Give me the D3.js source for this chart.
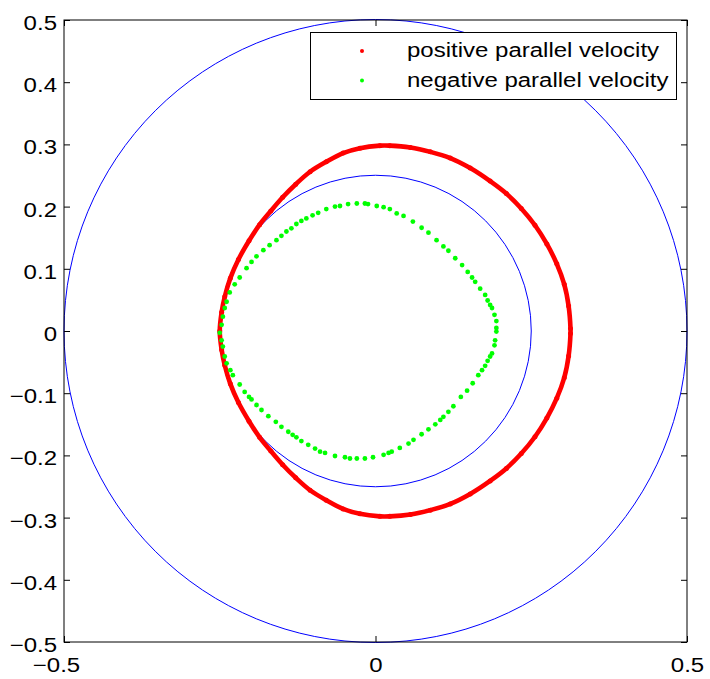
<!doctype html>
<html lang="en">
<head>
<meta charset="utf-8">
<title>parallel velocity orbits</title>
<script src="https://d3js.org/d3.v7.min.js"></script>
<style>
  body { margin: 0; background: #fff; }
  text { font-family: "Liberation Sans", Arial, sans-serif; }
</style>
</head>
<body>
<div id="chart"></div>
<script>
// ticks
var xTicks = [-0.5, 0, 0.5];
var yTicks = [-0.5, -0.4, -0.3, -0.2, -0.1, 0, 0.1, 0.2, 0.3, 0.4, 0.5];

// reference circles (radius)
var circleRadii = [0.5, 0.25];

// positive parallel velocity (red), going round
var posX = [-0.250, -0.247, -0.242, -0.233, -0.220, -0.203, -0.186, -0.168, -0.149, -0.128, -0.105, -0.079, -0.052, -0.025, 0.007, 0.023, 0.056, 0.088, 0.120, 0.152, 0.184, 0.210, 0.234, 0.256, 0.275, 0.291, 0.303, 0.310, 0.313,
            0.313, 0.310, 0.303, 0.291, 0.275, 0.256, 0.234, 0.210, 0.184, 0.152, 0.120, 0.088, 0.056, 0.023, 0.007, -0.025, -0.052, -0.079, -0.105, -0.128, -0.149, -0.168, -0.186, -0.203, -0.220, -0.233, -0.242, -0.247];
var posY = [0.000, 0.030, 0.055, 0.085, 0.115, 0.145, 0.171, 0.193, 0.215, 0.236, 0.256, 0.272, 0.286, 0.294, 0.298, 0.298, 0.295, 0.288, 0.278, 0.262, 0.241, 0.221, 0.197, 0.170, 0.140, 0.108, 0.075, 0.040, 0.004,
            -0.004, -0.040, -0.075, -0.108, -0.140, -0.170, -0.197, -0.221, -0.241, -0.262, -0.278, -0.288, -0.295, -0.298, -0.298, -0.294, -0.286, -0.272, -0.256, -0.236, -0.215, -0.193, -0.171, -0.145, -0.115, -0.085, -0.055, -0.030];

// negative parallel velocity (green)
var negX = [-0.247, -0.245, -0.242, -0.239, -0.234, -0.226, -0.218, -0.207, -0.199, -0.191, -0.180, -0.170, -0.159, -0.151, -0.143, -0.135, -0.127, -0.119, -0.111, -0.101, -0.092, -0.079, -0.065, -0.057, -0.044, -0.030, -0.017, -0.012, 0.002, 0.013, 0.023,
            0.034, 0.045, 0.060, 0.074, 0.085, 0.098, 0.109, 0.117, 0.128, 0.139, 0.148, 0.155, 0.160, 0.168, 0.176, 0.180, 0.184, 0.187, 0.191, 0.194, 0.194, 0.194, 0.192, 0.191, 0.187, 0.184, 0.180, 0.176, 0.171, 0.165, 0.156, 0.147, 0.137, 0.125, 0.117, 0.109, 0.104, 0.096, 0.085, 0.074, 0.061, 0.053, 0.039, 0.026, 0.021, 0.013, -0.004, -0.017, -0.030, -0.041, -0.049, -0.065, -0.081, -0.089, -0.097, -0.108, -0.119, -0.127, -0.133, -0.140, -0.151, -0.160, -0.172, -0.183, -0.191, -0.199, -0.203, -0.210, -0.218, -0.229, -0.233, -0.239, -0.242, -0.245, -0.247, -0.250];
var negY = [0.010, 0.023, 0.037, 0.047, 0.062, 0.075, 0.086, 0.101, 0.111, 0.120, 0.130, 0.138, 0.146, 0.153, 0.160, 0.165, 0.172, 0.177, 0.181, 0.186, 0.190, 0.196, 0.200, 0.201, 0.204, 0.205, 0.205, 0.204, 0.201, 0.199, 0.196,
            0.189, 0.185, 0.176, 0.166, 0.158, 0.146, 0.136, 0.129, 0.117, 0.106, 0.095, 0.086, 0.079, 0.068, 0.058, 0.049, 0.042, 0.037, 0.026, 0.016, 0.005, -0.001, -0.015, -0.023, -0.036, -0.041, -0.048, -0.056, -0.063, -0.071, -0.084, -0.096, -0.106, -0.121, -0.130, -0.138, -0.143, -0.150, -0.158, -0.166, -0.175, -0.181, -0.188, -0.194, -0.196, -0.199, -0.203, -0.205, -0.205, -0.205, -0.203, -0.201, -0.196, -0.194, -0.189, -0.183, -0.177, -0.171, -0.167, -0.162, -0.154, -0.146, -0.137, -0.127, -0.119, -0.110, -0.106, -0.098, -0.086, -0.071, -0.063, -0.052, -0.041, -0.025, -0.015, -0.003];

var legendLabels = ["positive parallel velocity", "negative parallel velocity"];
var colors = ["#ff0000", "#00ff00"];

var W = 710, H = 679;
var mLeft = 64, mRight = 687, mTop = 20, mBottom = 642;
var stretch = 1.2; // the original font is drawn wider than Arial

var svg = d3.select("#chart").append("svg")
    .attr("width", W)
    .attr("height", H);

var x = d3.scaleLinear().domain([-0.5, 0.5]).range([mLeft, mRight]);
var y = d3.scaleLinear().domain([-0.5, 0.5]).range([mBottom, mTop]);

var fmtTick = function(d) {
    if (Math.abs(d) < 1e-9) return "0";
    return d3.format(".1f")(d).replace("-", "\u2212");
};

// blue circles
svg.selectAll("circle.ref")
    .data(circleRadii)
    .enter().append("circle")
    .attr("class", "ref")
    .attr("cx", x(0))
    .attr("cy", y(0))
    .attr("r", function(d) { return x(d) - x(0); })
    .attr("fill", "none")
    .attr("stroke", "#0000ff")
    .attr("stroke-width", 1);

// red band: dense dots merge into a band
var posPts = posX.map(function(v, i) { return [v, posY[i]]; });
var line = d3.line()
    .x(function(d) { return x(d[0]); })
    .y(function(d) { return y(d[1]); })
    .curve(d3.curveCatmullRomClosed.alpha(0.5));

svg.append("path")
    .attr("d", line(posPts))
    .attr("fill", "none")
    .attr("stroke", colors[0])
    .attr("stroke-width", 4.6);

svg.selectAll("circle.pos")
    .data(posPts)
    .enter().append("circle")
    .attr("class", "pos")
    .attr("cx", function(d) { return x(d[0]); })
    .attr("cy", function(d) { return y(d[1]); })
    .attr("r", 2.5)
    .attr("fill", colors[0]);

// green dots
var negPts = negX.map(function(v, i) { return [v, negY[i]]; });
svg.selectAll("circle.neg")
    .data(negPts)
    .enter().append("circle")
    .attr("class", "neg")
    .attr("cx", function(d) { return x(d[0]); })
    .attr("cy", function(d) { return y(d[1]); })
    .attr("r", 2.4)
    .attr("fill", colors[1]);

// axes, ticks pointing inward on all four sides
var tick = 6;
var gx = svg.append("g")
    .attr("transform", "translate(0," + mBottom + ")")
    .call(d3.axisBottom(x).tickValues(xTicks).tickSizeInner(-tick).tickSizeOuter(0).tickFormat(fmtTick));
svg.append("g")
    .attr("transform", "translate(0," + mTop + ")")
    .call(d3.axisTop(x).tickValues(xTicks).tickSizeInner(-tick).tickSizeOuter(0).tickFormat(""));
var gy = svg.append("g")
    .attr("transform", "translate(" + mLeft + ",0)")
    .call(d3.axisLeft(y).tickValues(yTicks).tickSizeInner(-tick).tickSizeOuter(0).tickFormat(fmtTick));
svg.append("g")
    .attr("transform", "translate(" + mRight + ",0)")
    .call(d3.axisRight(y).tickValues(yTicks).tickSizeInner(-tick).tickSizeOuter(0).tickFormat(""));

svg.selectAll(".domain").remove();
svg.selectAll(".tick line").attr("stroke", "#000");
svg.selectAll(".tick text")
    .attr("fill", "#000")
    .style("font-size", "20px");

gy.selectAll(".tick text")
    .attr("x", -7)
    .attr("dy", "0.47em");
// matlab centres the number itself, the minus sign hangs to the left
gx.selectAll(".tick text")
    .attr("y", 30)
    .attr("dy", 0)
    .attr("dx", function(d) { return d < 0 ? -8 : 0; });

svg.append("rect")
    .attr("x", mLeft)
    .attr("y", mTop)
    .attr("width", mRight - mLeft)
    .attr("height", mBottom - mTop)
    .attr("fill", "none")
    .attr("stroke", "#000")
    .attr("stroke-width", 1);

// legend
var lg = svg.append("g");
lg.append("rect")
    .attr("x", 310.5)
    .attr("y", 32.5)
    .attr("width", 366)
    .attr("height", 67)
    .attr("fill", "#fff")
    .attr("stroke", "#000")
    .attr("stroke-width", 1);

legendLabels.forEach(function(t, i) {
    var ly = 57 + i * 29.5;
    lg.append("circle")
        .attr("cx", 362)
        .attr("cy", ly - 6)
        .attr("r", 2)
        .attr("fill", colors[i]);
    lg.append("text")
        .attr("x", 407)
        .attr("y", ly)
        .style("font-size", "20px")
        .attr("fill", "#000")
        .text(t);
});

// widen all texts to match the original lettering
svg.selectAll("text").each(function() {
    var w = this.getComputedTextLength();
    if (w > 0) {
        d3.select(this)
            .attr("textLength", w * stretch)
            .attr("lengthAdjust", "spacingAndGlyphs");
    }
});
</script>
</body>
</html>
